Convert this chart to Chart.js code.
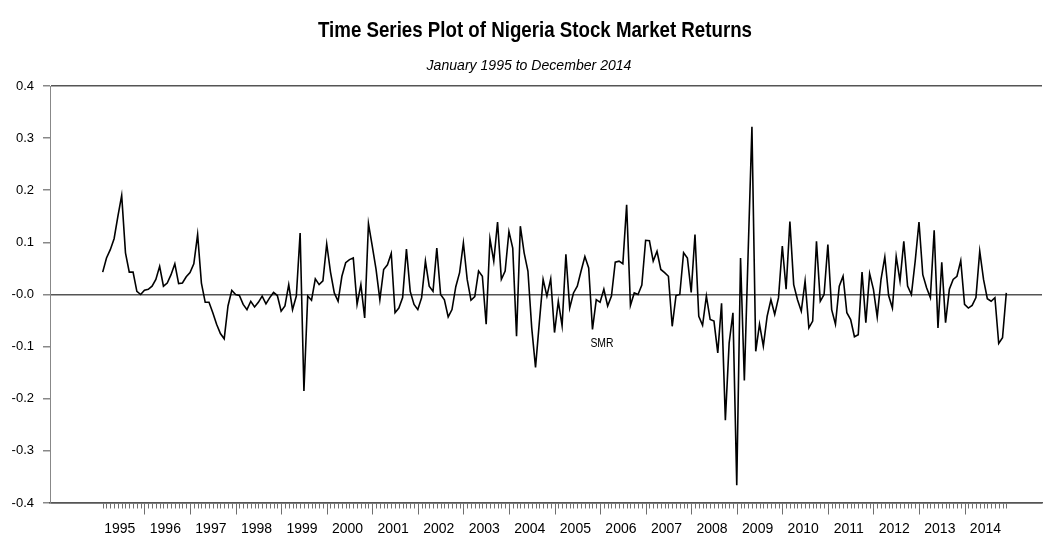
<!DOCTYPE html>
<html>
<head>
<meta charset="utf-8">
<script src="https://cdn.jsdelivr.net/npm/chart.js@4.4.1/dist/chart.umd.min.js"></script>
<style>
html,body{margin:0;padding:0;background:#fff;}
#wrap{width:1046px;height:537px;}
</style>
</head>
<body>
<div id="wrap"><canvas id="c" width="1046" height="537"></canvas></div>
<script>
// ---- data (monthly returns, first value = Feb 1995, last = Dec 2014) ----
const yearLabels = ['1995','1996','1997','1998','1999','2000','2001','2002','2003','2004',
                    '2005','2006','2007','2008','2009','2010','2011','2012','2013','2014'];
const yTickLabels = ['-0.4','-0.3','-0.2','-0.1','-0.0','0.1','0.2','0.3','0.4'];
const seriesName = 'SMR';
const titleText = 'Time Series Plot of Nigeria Stock Market Returns';
const subtitleText = 'January 1995 to December 2014';

const smr1995_1999 = [
  0.043, 0.070, 0.086, 0.107, 0.150, 0.190, 0.080, 0.043, 0.043, 0.006, 0.000,
  0.008, 0.010, 0.016, 0.029, 0.054, 0.016, 0.022, 0.038, 0.059, 0.021, 0.022, 0.034,
  0.042, 0.059, 0.115, 0.022, -0.015, -0.015, -0.035, -0.057, -0.075, -0.085, -0.022, 0.008,
  0.000, -0.002, -0.019, -0.029, -0.013, -0.024, -0.015, -0.003, -0.018, -0.006, 0.004, -0.002,
  -0.032, -0.022, 0.019, -0.029, -0.003, 0.118, -0.185, -0.003, -0.011, 0.030, 0.019, 0.026
];
const smr2000_2004 = [
  0.097, 0.043, 0.003, -0.013, 0.035, 0.061, 0.067, 0.070, -0.019, 0.019, -0.045, 0.136,
  0.093, 0.048, -0.010, 0.048, 0.057, 0.079, -0.035, -0.026, -0.006, 0.087, 0.006, -0.019,
  -0.029, -0.006, 0.064, 0.016, 0.006, 0.089, 0.000, -0.010, -0.043, -0.029, 0.015, 0.042,
  0.099, 0.029, -0.011, -0.004, 0.045, 0.035, -0.057, 0.107, 0.064, 0.139, 0.029, 0.045,
  0.121, 0.089, -0.080, 0.131, 0.080, 0.045, -0.064, -0.140, -0.054, 0.029, -0.003, 0.030
];
const smr2005_2009 = [
  -0.073, -0.013, -0.060, 0.077, -0.026, 0.003, 0.016, 0.045, 0.073, 0.051, -0.067, -0.010,
  -0.015, 0.010, -0.022, -0.003, 0.062, 0.064, 0.059, 0.172, -0.021, 0.003, 0.000, 0.018,
  0.104, 0.103, 0.064, 0.083, 0.048, 0.042, 0.035, -0.061, -0.002, 0.000, 0.080, 0.070,
  0.004, 0.115, -0.042, -0.059, -0.003, -0.048, -0.051, -0.112, -0.017, -0.241, -0.093, -0.035,
  -0.366, 0.070, -0.165, 0.080, 0.322, -0.109, -0.057, -0.099, -0.042, -0.010, -0.038, -0.006
];
const smr2010_2014 = [
  0.093, 0.010, 0.140, 0.019, -0.010, -0.032, 0.026, -0.064, -0.051, 0.102, -0.013, 0.000,
  0.096, -0.029, -0.057, 0.016, 0.035, -0.035, -0.048, -0.081, -0.077, 0.043, -0.054, 0.040,
  0.010, -0.043, 0.029, 0.072, -0.002, -0.026, 0.073, 0.026, 0.102, 0.016, 0.000, 0.064,
  0.139, 0.038, 0.013, -0.006, 0.123, -0.064, 0.062, -0.054, 0.010, 0.029, 0.035, 0.065,
  -0.019, -0.026, -0.021, -0.006, 0.083, 0.029, -0.008, -0.013, -0.006, -0.094, -0.083, 0.003
];

const returns = [].concat(smr1995_1999, smr2000_2004, smr2005_2009, smr2010_2014);
// x value = months since Feb 1995 (Jan 1995 would be -1)
const points = returns.map((v, i) => ({x: i, y: v}));
const yTickValues = yTickLabels.map(parseFloat);

const SANS = "'Liberation Sans',Arial,Helvetica,sans-serif";

// condensed text helper (reference uses a narrow face)
function drawNarrowText(ctx, text, cx, baseline, font, sx) {
  ctx.save();
  ctx.font = font;
  ctx.fillStyle = '#000';
  ctx.textAlign = 'center';
  ctx.textBaseline = 'alphabetic';
  ctx.translate(cx, baseline);
  ctx.scale(sx, 1);
  ctx.fillText(text, 0, 0);
  ctx.restore();
}

const headings = {
  id: 'headings',
  afterDraw(chart) {
    const ctx = chart.ctx;
    drawNarrowText(ctx, titleText, 535, 37, "bold 22px " + SANS, 0.85);
    drawNarrowText(ctx, subtitleText, 529, 70, "italic 14.5px " + SANS, 0.97);
  }
};

const monthTicks = {
  id: 'monthTicks',
  afterDraw(chart) {
    const xs = chart.scales.x, ctx = chart.ctx, y0 = chart.chartArea.bottom + 0.5;
    ctx.save();
    ctx.strokeStyle = '#6e6e6e';
    ctx.lineWidth = 1;
    ctx.beginPath();
    returns.forEach((_, i) => {
      const x = Math.round(xs.getPixelForValue(i)) + 0.5;
      const major = (i + 1) % 12 === 0;   // January of each year
      ctx.moveTo(x, y0);
      ctx.lineTo(x, y0 + (major ? 11 : 5));
    });
    ctx.stroke();
    ctx.restore();
  }
};

const seriesLabel = {
  id: 'seriesLabel',
  afterDatasetsDraw(chart) {
    const xs = chart.scales.x, ys = chart.scales.y, ctx = chart.ctx;
    drawNarrowText(ctx, seriesName, xs.getPixelForValue(131.5), ys.getPixelForValue(-0.092) + 5,
                   "13px " + SANS, 0.8);
  }
};

new Chart(document.getElementById('c'), {
  type: 'line',
  data: {
    datasets: [{
      label: seriesName,
      data: points,
      borderColor: '#000',
      borderWidth: 1.6,
      pointRadius: 0,
      tension: 0,
      fill: false
    }]
  },
  options: {
    responsive: false,
    animation: false,
    devicePixelRatio: 1,
    layout: {padding: {left: 0, right: 4, top: 86, bottom: 0}},
    plugins: {
      legend: {display: false},
      tooltip: {enabled: false},
      title: {display: false},
      subtitle: {display: false}
    },
    scales: {
      x: {
        type: 'linear',
        min: -13.88,
        max: 247.4,
        afterBuildTicks: s => { s.ticks = yearLabels.map((_, k) => ({value: k * 12 + 4.5})); },
        afterFit: s => { s.height = 34; },
        grid: {display: false},
        border: {display: true, color: '#555', width: 1.5},
        ticks: {
          autoSkip: false, maxRotation: 0, padding: 10,
          color: '#000', font: {family: SANS, size: 14},
          callback: (v, i) => yearLabels[i]
        }
      },
      y: {
        min: -0.4,
        max: 0.4,
        afterBuildTicks: s => { s.ticks = yTickValues.map(v => ({value: v})); },
        afterFit: s => { s.width = 50; },
        grid: {
          color: c => (Math.abs(c.tick.value) < 1e-9 || Math.abs(Math.abs(c.tick.value) - 0.4) < 1e-9) ? '#555' : 'rgba(0,0,0,0)',
          lineWidth: 1.5,
          tickColor: '#888',
          tickLength: 7,
          drawTicks: true
        },
        border: {display: true, color: '#888', width: 1},
        ticks: {
          padding: 9,
          color: '#000',
          font: {family: SANS, size: 13},
          callback: (v, i) => yTickLabels[i]
        }
      }
    }
  },
  plugins: [headings, monthTicks, seriesLabel]
});
</script>
</body>
</html>
